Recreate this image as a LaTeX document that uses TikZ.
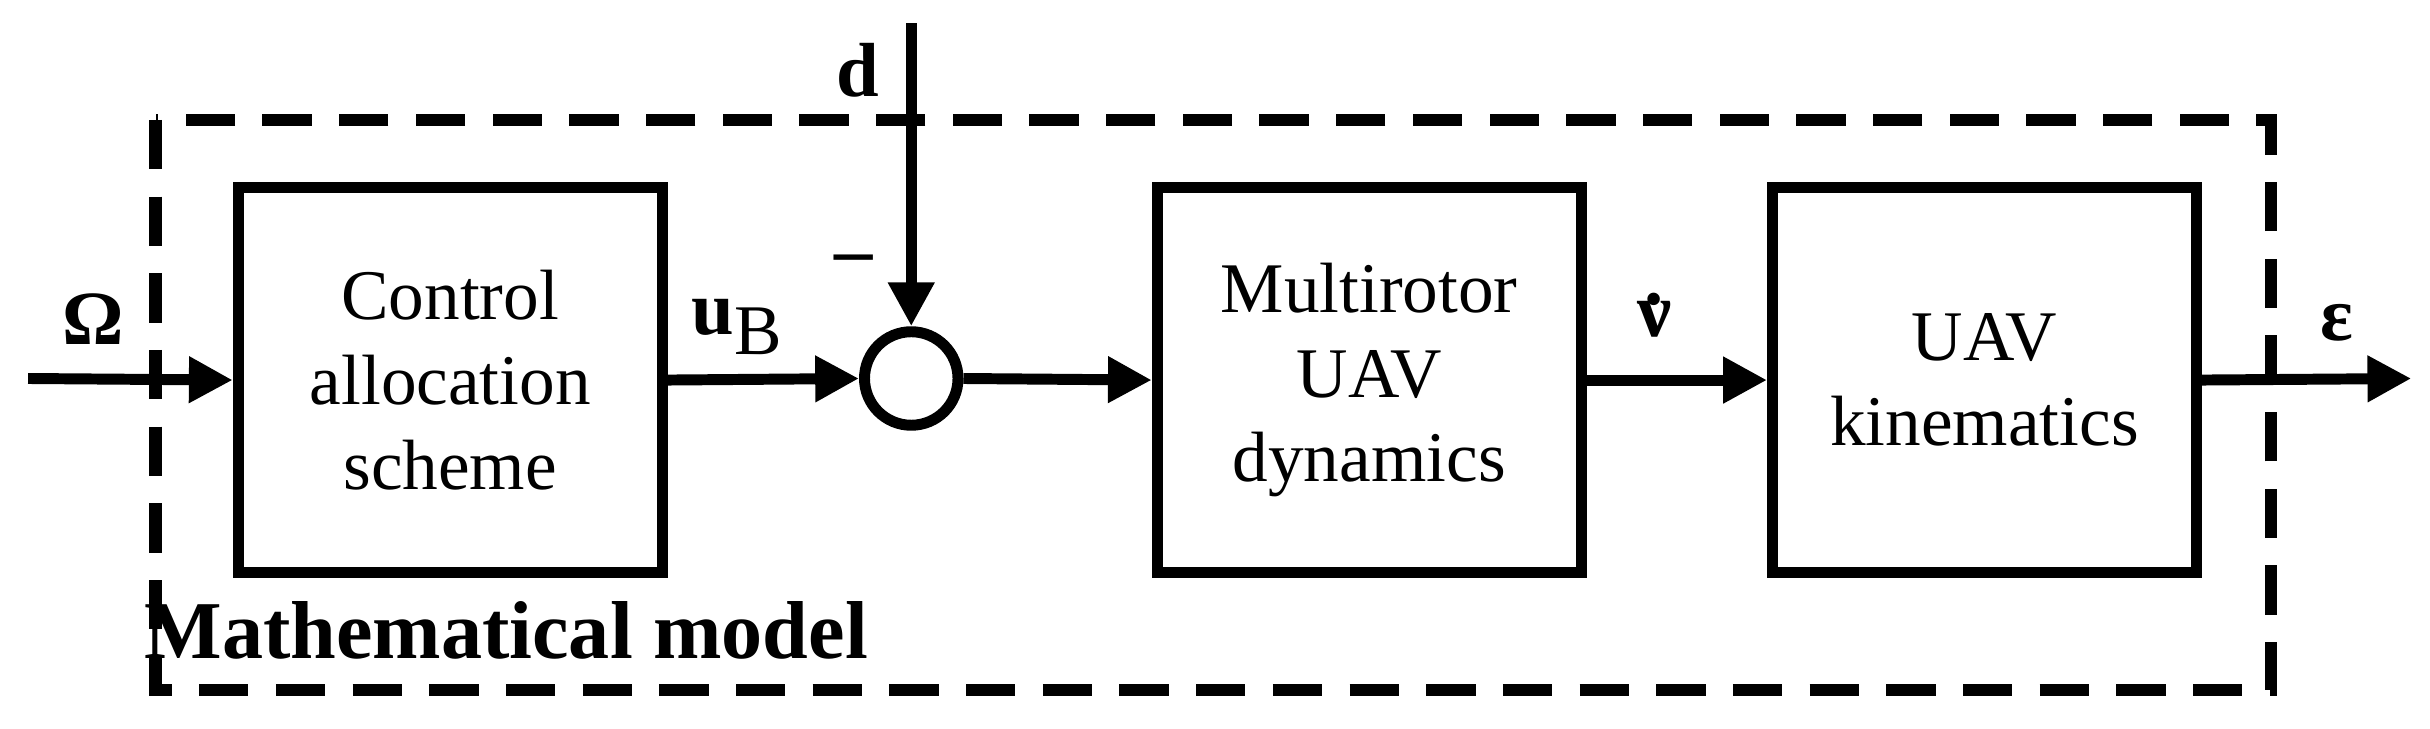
\documentclass[tikz,border=0pt]{standalone}
\usepackage{fontspec}
\setmainfont{Liberation Serif}
\usetikzlibrary{arrows.meta}
\begin{document}
\begin{tikzpicture}[x=0.01cm,y=-0.01cm,
  blk/.style={draw,line width=2pt,minimum width=2.72cm,minimum height=2.47cm,align=center,font=\fontsize{13}{15.5}\selectfont},
  sig/.style={line width=2pt,-{Triangle[length=8pt,width=8pt]}},
  lbl/.style={font=\fontsize{14}{16}\selectfont\bfseries}]
\useasboundingbox (0,0) rectangle (1560,468);
\draw[line width=2.3pt,dash pattern=on 9pt off 5pt] (100,77) rectangle (1458,443);
\node[blk] (ca) at (289,244) {Control\\allocation\\scheme};
\node[blk] (md) at (879,244) {Multirotor\\UAV\\dynamics};
\node[blk] (kin) at (1274,244) {UAV\\kinematics};
\node[draw,circle,line width=2pt,minimum size=0.6cm,inner sep=0pt] (s) at (585,243) {};
\coordinate (in) at (18,243);
\coordinate (out) at (1548,243);
\coordinate (dt) at (585,15);
\draw[sig] (in) -- (ca.west);
\draw[sig] (ca.east) -- (s.west);
\draw[sig] (s.east) -- (md.west);
\draw[sig] (md.east) -- (kin.west);
\draw[sig] (kin.east) -- (out);
\draw[sig] (dt) -- (s.north);
\node[lbl] (om) at (60,205) {Ω};
\node[lbl] (ub) at (474,210) {u\textsubscript{\normalfont\fontsize{13}{15}\selectfont B}};
\node[lbl] (d) at (551,45) {d};
\node[lbl] (m) at (548,170) {\textendash};
\node[lbl] (nu) at (1062,205) {\ooalign{ν\cr\hidewidth\raisebox{0.42em}{.}\hidewidth\cr}};
\node[lbl] (ep) at (1500,207) {ε};
\node[lbl,font=\fontsize{15}{17}\selectfont\bfseries] (mm) at (325,405) {Mathematical model};
\end{tikzpicture}
\end{document}
